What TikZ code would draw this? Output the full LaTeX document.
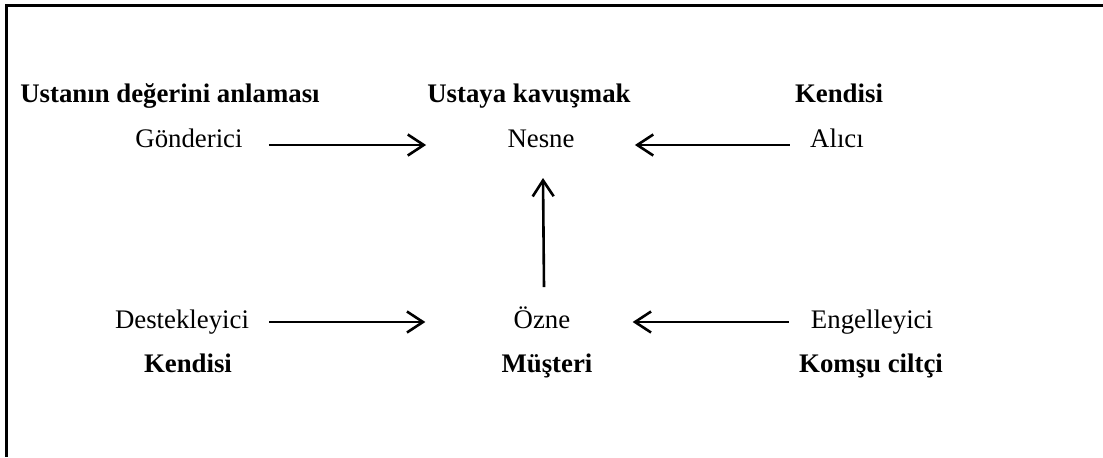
\documentclass[tikz,border=0pt]{standalone}
\usepackage{fontspec}
\setmainfont{Liberation Serif}
\usetikzlibrary{arrows.meta}
\begin{document}
\begin{tikzpicture}[x=0.5pt,y=-0.5pt,
  lbl/.style={anchor=base,inner sep=0pt,font=\fontsize{13.4}{16}\selectfont},
  blbl/.style={anchor=base,inner sep=0pt,font=\fontsize{13.4}{16}\selectfont\bfseries},
  arr/.style={line width=1.3pt,-{Straight Barb[length=8pt,width=10.5pt,line width=1.3pt]}},
  frame/.style={line width=1.4pt}]
\useasboundingbox (0,0) rectangle (1103,457);
\draw[frame] (1103,5.5) -- (6.5,5.5) -- (6.5,457);
% row 1
\node[blbl] (t1) at (170,102) {Ustanın değerini anlaması};
\node[blbl] (t2) at (529,102) {Ustaya kavuşmak};
\node[blbl] (t3) at (839,102) {Kendisi};
% row 2
\node[lbl] (gond) at (189,147) {Gönderici};
\node[lbl] (nesne) at (541,147) {Nesne};
\node[lbl] (alici) at (837,147) {Alıcı};
% row 3
\node[lbl] (destek) at (182,328) {Destekleyici};
\node[lbl] (ozne) at (542,328) {Özne};
\node[lbl] (engel) at (872,328) {Engelleyici};
% row 4
\node[blbl] (b1) at (188,372) {Kendisi};
\node[blbl] (b2) at (547,372) {Müşteri};
\node[blbl] (b3) at (871,372) {Komşu ciltçi};
% arrows
\draw[arr,shorten <=13pt,shorten >=40.5pt] ([yshift=1pt]gond.base east) -- ([yshift=1pt]nesne.base west);
\draw[arr,shorten <=10pt,shorten >=30pt] ([yshift=1pt]alici.base west) -- ([yshift=1pt]nesne.base east);
\draw[arr,shorten <=10pt,shorten >=44pt] ([yshift=3pt]destek.base east) -- ([yshift=3pt]ozne.base west);
\draw[arr,shorten <=11pt,shorten >=31pt] ([yshift=3pt]engel.base west) -- ([yshift=3pt]ozne.base east);
\draw[arr] ([xshift=1pt,yshift=20.5pt]ozne.base) -- ([xshift=1pt,yshift=-15.5pt]nesne.base);
\end{tikzpicture}
\end{document}
